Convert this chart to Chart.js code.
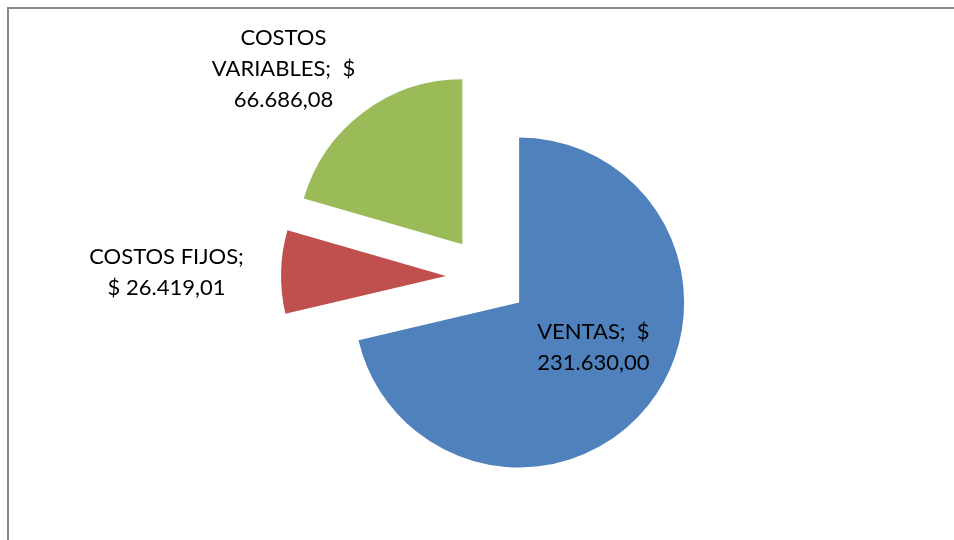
<!DOCTYPE html>
<html>
<head>
<meta charset="utf-8">
<script src="https://cdn.jsdelivr.net/npm/chart.js@4"></script>
<style>
  html, body { margin: 0; padding: 0; background: #fff; overflow: hidden; }
  #wrap { position: relative; width: 954px; height: 540px; }
  #frame { position: absolute; left: 7px; top: 7px; width: 1000px; height: 600px; border: 2px solid #878787; box-sizing: border-box; pointer-events: none; }
  canvas { position: absolute; left: 0; top: 0; }
</style>
</head>
<body>
<div id="wrap">
  <canvas id="c" width="954" height="540"></canvas>
  <div id="frame"></div>
</div>
<script>
// ---- data ----
const categories = ['VENTAS', 'COSTOS FIJOS', 'COSTOS VARIABLES'];
const values = [231630.00, 26419.01, 66686.08];
const colors = ['#4F81BD', '#C0504D', '#9BBB59'];

// ---- label layout (polar, relative to slice vertex: degrees clockwise from top, fraction of radius) ----
const labelAngles = [121, 270.7, 314.5];
const labelDist = [0.525, 1.694, 1.52];

function fmtMoney(v) {
  const parts = v.toFixed(2).split('.');
  const intPart = parts[0].replace(/\B(?=(\d{3})+(?!\d))/g, '.');
  return intPart + ',' + parts[1];
}
function labelLines(i) {
  const cat = categories[i], val = fmtMoney(values[i]);
  if (i === 0) return [cat + ';  $', val];
  if (i === 1) return [cat + ';', '$ ' + val];
  const w = cat.split(' ');
  return [w[0], w.slice(1).join(' ') + ';  $', val];
}

const EXPLODE = 41;
const FONT = '22px Lato, "Open Sans", sans-serif';
const LINE_H = 31;

const explodePlugin = {
  id: 'explode',
  beforeDatasetDraw(chart, args) {
    const meta = args.meta;
    const ctx = chart.ctx;
    meta.data.forEach(arc => {
      const mid = (arc.startAngle + arc.endAngle) / 2;
      ctx.save();
      ctx.translate(Math.cos(mid) * EXPLODE, Math.sin(mid) * EXPLODE);
      arc.draw(ctx);
      ctx.restore();
    });
    return false;
  },
  afterDatasetsDraw(chart) {
    const meta = chart.getDatasetMeta(0);
    const ctx = chart.ctx;
    ctx.save();
    ctx.font = FONT;
    ctx.fillStyle = '#000';
    ctx.textAlign = 'center';
    ctx.textBaseline = 'middle';
    meta.data.forEach((arc, i) => {
      const mid = (arc.startAngle + arc.endAngle) / 2;
      const vx = arc.x + Math.cos(mid) * EXPLODE;
      const vy = arc.y + Math.sin(mid) * EXPLODE;
      const a = labelAngles[i] * Math.PI / 180;
      const r = arc.outerRadius * labelDist[i];
      const cx = vx + Math.sin(a) * r;
      const cy = vy - Math.cos(a) * r;
      const lines = labelLines(i);
      const y0 = cy - (lines.length - 1) * LINE_H / 2;
      lines.forEach((t, k) => ctx.fillText(t, cx, y0 + k * LINE_H));
    });
    ctx.restore();
  }
};

new Chart(document.getElementById('c'), {
  type: 'pie',
  data: {
    labels: categories,
    datasets: [{
      data: values,
      backgroundColor: colors,
      borderWidth: 0,
      offset: 0
    }]
  },
  options: {
    responsive: false,
    animation: false,
    radius: 165,
    layout: { padding: { left: 20, top: 14, right: 0, bottom: 0 } },
    plugins: { legend: { display: false }, tooltip: { enabled: false } },
    events: []
  },
  plugins: [explodePlugin]
});
</script>
</body>
</html>
